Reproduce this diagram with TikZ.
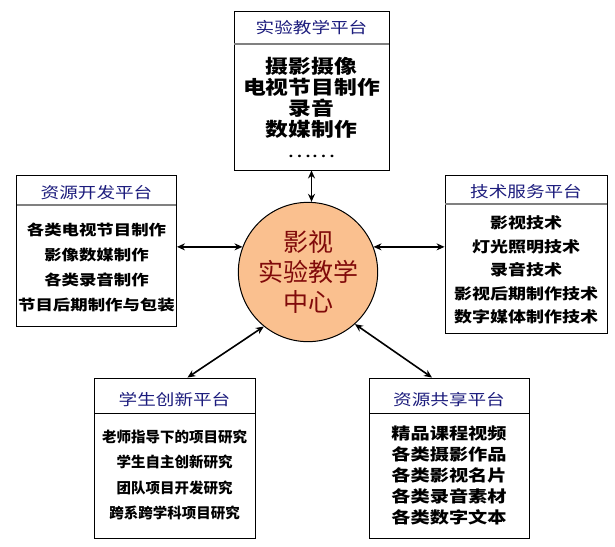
\documentclass[tikz,border=0pt]{standalone}
\usepackage{fontspec}
\setmainfont{Noto Sans CJK SC}
\newfontfamily\widecjk[FakeStretch=1.2]{Noto Sans CJK SC}
\usetikzlibrary{arrows.meta,calc}

\definecolor{titleblue}{RGB}{28,28,125}
\definecolor{hubfill}{RGB}{250,192,143}
\definecolor{hubtext}{RGB}{128,10,10}

\begin{document}
\begin{tikzpicture}[
    x=1pt,y=-1pt,
    >={Stealth[length=8pt,width=7pt]},
    link/.style={<->,line width=1.6pt},
    platform/.style={draw,line width=0.9pt,inner sep=0pt},
    heading/.style={text=titleblue,font=\widecjk\fontsize{15.5}{18}\selectfont},
    divider/.style={gray,line width=1.4pt},
    items/.style={align=center,inner sep=0pt},
]
\useasboundingbox[fill=white] (0,0) rectangle (615,546);

% Centre
\node[circle,draw,line width=1pt,fill=hubfill,minimum size=124pt,
    text=hubtext,align=center,font=\fontsize{25}{30}\selectfont]
    (hub) at (308,272) {影视\\实验教学\\中心};

% Top platform
\node[platform,minimum width=155pt,minimum height=159pt] (top) at (311.5,90.5) {};
\node[heading] (top-t) at (311.5,28) {实验教学平台};
\draw[divider] (234,44) -- (389,44);
\node[items,font=\widecjk\bfseries\fontsize{19}{21}\selectfont] (top-i) at (311.5,107)
    {摄影摄像\\电视节目制作\\录音\\数媒制作\\{\mdseries ……}};

% Left platform
\node[platform,minimum width=160pt,minimum height=151pt] (left) at (96.5,250.5) {};
\node[heading] (left-t) at (96.5,193) {资源开发平台};
\draw[divider] (17,205) -- (176,205);
\node[items,font=\widecjk\bfseries\fontsize{14.5}{25}\selectfont] (left-i) at (96.5,267.5)
    {各类电视节目制作\\影像数媒制作\\各类录音制作\\节目后期制作与包装};

% Right platform
\node[platform,minimum width=162pt,minimum height=158pt] (right) at (526,254) {};
\node[heading] (right-t) at (526,192) {技术服务平台};
\draw[divider] (445,204) -- (607,204);
\node[items,font=\widecjk\bfseries\fontsize{15}{23.5}\selectfont] (right-i) at (526,270)
    {影视技术\\灯光照明技术\\录音技术\\影视后期制作技术\\数字媒体制作技术};

% Bottom left platform
\node[platform,minimum width=161pt,minimum height=160pt] (bl) at (174.5,458) {};
\node[heading] (bl-t) at (174.5,400) {学生创新平台};
\draw[line width=1pt] (94,413) -- (255,413);
\node[items,font=\bfseries\fontsize{14.5}{25.5}\selectfont] (bl-i) at (174.5,475)
    {老师指导下的项目研究\\学生自主创新研究\\团队项目开发研究\\跨系跨学科项目研究};

% Bottom right platform
\node[platform,minimum width=160pt,minimum height=160pt] (br) at (449,458) {};
\node[heading] (br-t) at (449,400) {资源共享平台};
\draw[line width=1pt] (369,413) -- (529,413);
\node[items,font=\widecjk\bfseries\fontsize{16}{21}\selectfont] (br-i) at (449,475)
    {精品课程视频\\各类摄影作品\\各类影视名片\\各类录音素材\\各类数字文本};

% Links
\draw[link] (top.south) -- (top.south |- hub.north);
\draw[link] (hub.159) -- (hub.159 -| left.east);
\draw[link] (hub.21) -- (hub.21 -| right.west);
\draw[link] (hub.231) -- ([xshift=13pt]bl.north);
\draw[link] (hub.-48) -- ([xshift=-17pt]br.north);
\end{tikzpicture}
\end{document}
